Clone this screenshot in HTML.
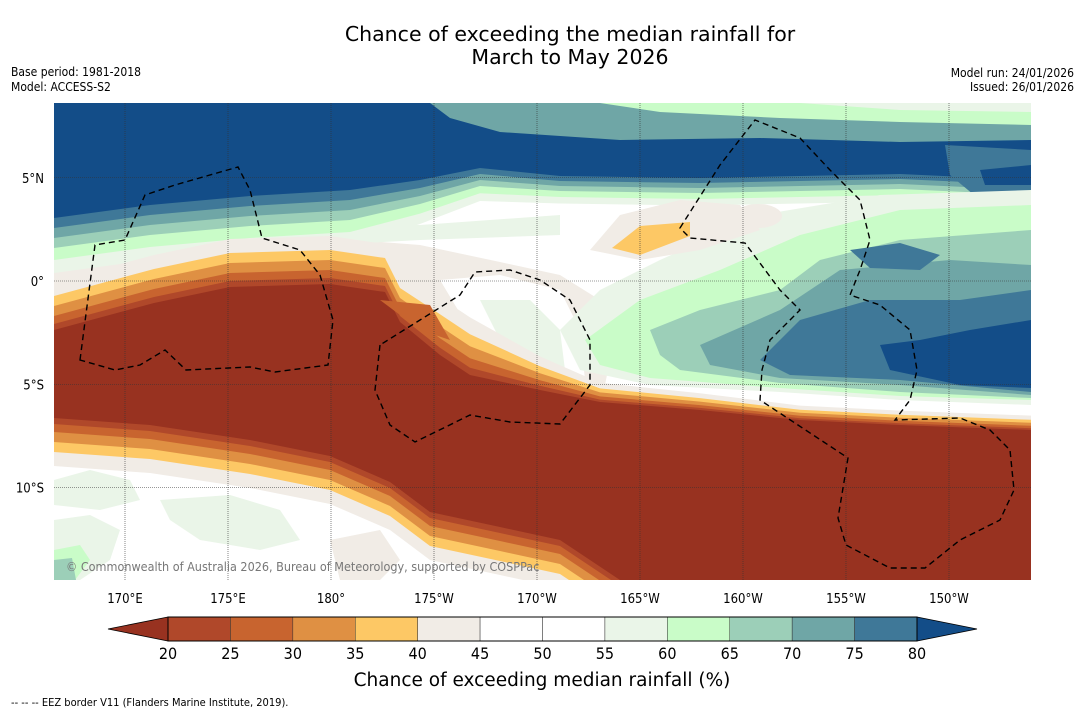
<!DOCTYPE html>
<html><head><meta charset="utf-8">
<style>
body{margin:0;background:#fff;width:1085px;height:713px;overflow:hidden;font-family:"DejaVu Sans Condensed","DejaVu Sans","Liberation Sans",sans-serif;}
svg{display:block}
</style></head>
<body>
<svg id="chart" width="1085" height="713" viewBox="0 0 1085 713">
<text x="570" y="41" text-anchor="middle" font-size="20.5" font-family="DejaVu Sans, sans-serif">Chance of exceeding the median rainfall for</text>
<text x="570" y="64" text-anchor="middle" font-size="20.5" font-family="DejaVu Sans, sans-serif">March to May 2026</text>
<text x="11" y="76" font-size="12">Base period: 1981-2018</text>
<text x="11" y="91" font-size="12">Model: ACCESS-S2</text>
<text x="1074" y="77" font-size="12" text-anchor="end">Model run: 24/01/2026</text>
<text x="1074" y="91" font-size="12" text-anchor="end">Issued: 26/01/2026</text>
<defs><clipPath id="mapclip"><rect x="54" y="103" width="977" height="477"/></clipPath></defs>
<g id="map" clip-path="url(#mapclip)"></g>
<g id="axes"></g>
<g id="cbar"></g>
<text x="542" y="686" text-anchor="middle" font-size="18.5" font-family="DejaVu Sans, sans-serif">Chance of exceeding median rainfall (%)</text>
<text x="11" y="706" font-size="11">--  --  -- EEZ border V11 (Flanders Marine Institute, 2019).</text>
</svg>
<script>
const binEdges=[20,25,30,35,40,45,50,55,60,65,70,75,80];
const binColors=["#b0482a","#c8642f","#df9043","#fdc865","#f1ece6","#ffffff","#ffffff","#eaf5e8","#c9fcc8","#9ccfb8","#6fa6a6","#3f7898"];
const lowColor="#983220", highColor="#134d88";
const lonTicks=["170°E","175°E","180°","175°W","170°W","165°W","160°W","155°W","150°W"];
const lonValues=[170,175,180,185,190,195,200,205,210];
const latTicks=["5°N","0°","5°S","10°S"];
const latValues=[5,0,-5,-10];
const NS="http://www.w3.org/2000/svg";
const xLon=l=>125+(l-170)*20.6;
const yLat=l=>281-l*20.65;
const xBin=v=>168+(v-20)*(749/60);
function mk(t,a,p){const e=document.createElementNS(NS,t);for(const k in a)e.setAttribute(k,a[k]);p.appendChild(e);return e;}
const map=document.getElementById('map');
mk('rect',{x:54,y:103,width:977,height:477,fill:'#fff'},map);
const wetTop=[[54,218,1],[150,205,1],[250,196,1],[350,190,1],[420,180,.8],[480,168,.6],[560,176,.5],[700,178,.5],[800,176,.5],[900,174,.5],[1031,180,.5]];
const dryTop=[[54,330,1],[154,303,1],[230,287,1],[330,284,1],[385,292,1],[400,322,1],[440,355,1.2],[470,375,1.2],[540,390,.7],[600,402,.4],[700,410,.35],[800,420,.3],[900,425,.3],[1031,430,.3]];
const dryBot=[[1031,580],[620,580],[560,540],[500,527],[430,512],[390,482],[330,456],[250,440],[150,425],[54,418]];
function path(pts){return 'M'+pts.map(p=>p[0]+','+p[1]).join('L')+'Z';}
mk('path',{d:'M54,250L200,240L330,238L420,245L500,262L560,275L600,300L610,360L600,410L540,395L470,375L430,340L380,300L54,300Z',fill:binColors[4]},map);
mk('path',{d:'M440,280L500,275L560,290L580,330L585,380L560,385L520,360L470,330Z',fill:'#ffffff'},map);
mk('path',{d:'M480,300L530,300L560,330L565,370L530,365L500,340Z',fill:binColors[7]},map);
mk('path',{d:'M54,235L200,225L330,220L420,225L560,215L560,235L420,240L330,245L200,250L54,262Z',fill:binColors[7]},map);
const wetOffsets=[55,42,30,20,10,0];
for(let i=0;i<6;i++){const pts=[[54,103],[1031,103]].concat(wetTop.slice().reverse().map(p=>[p[0],p[1]+wetOffsets[i]*p[2]]));
const el=mk('path',{d:path(pts),fill:i<5?binColors[7+i]:highColor},map);

}
mk('path',{d:'M430,103L1031,103L1031,140L900,142L760,138L620,140L500,132L450,118Z',fill:binColors[10]},map);
mk('path',{d:'M600,103L1031,103L1031,125L900,122L780,118L660,112Z',fill:binColors[8]},map);
mk('path',{d:'M800,103L1031,103L1031,112L900,110Z',fill:binColors[7]},map);
mk('path',{d:'M945,145L1031,150L1031,195L980,200L950,175Z',fill:binColors[11]},map);
mk('path',{d:'M980,170L1031,165L1031,185L985,185Z',fill:highColor},map);
const blobs=[
 [binColors[7],'M560,330L600,290L660,260L760,215L880,195L1031,190L1031,405L900,400L780,392L650,385L580,370Z'],
 [binColors[8],'M585,340L640,300L720,270L800,235L900,210L1031,205L1031,400L900,396L780,388L650,378L600,365Z'],
 [binColors[9],'M650,330L700,310L780,290L820,260L900,240L1031,230L1031,398L900,392L780,383L680,370L660,355Z'],
 [binColors[10],'M700,345L780,310L840,270L950,260L1031,265L1031,395L900,385L780,378L710,365Z'],
 [binColors[11],'M760,360L800,320L870,300L960,300L1031,290L1031,392L900,380L790,375Z'],
 [highColor,'M880,345L920,340L970,330L1031,320L1031,388L960,385L890,370Z'],
 [binColors[11],'M850,250L900,243L940,255L920,270L870,268Z']];
blobs.forEach(b=>{const el=mk('path',{d:b[1],fill:b[0]},map);

});
mk('path',{d:'M590,250L620,215L680,200L740,205L760,230L700,250L640,260Z',fill:binColors[4]},map);
mk('path',{d:'M612,248L640,226L690,222L690,236L640,255Z',fill:binColors[3]},map);
mk('ellipse',{cx:758,cy:216,rx:24,ry:12,fill:binColors[4]},map);
mk('path',{d:'M54,480L90,470L130,480L140,500L100,510L54,505Z',fill:binColors[7]},map);
mk('path',{d:'M160,500L230,495L280,510L300,540L260,550L200,540L170,520Z',fill:binColors[7]},map);
mk('path',{d:'M54,520L90,515L120,530L110,560L80,580L54,580Z',fill:binColors[7]},map);
mk('path',{d:'M54,550L80,545L90,560L75,580L54,580Z',fill:binColors[8]},map);
mk('path',{d:'M54,560L72,558L76,580L54,580Z',fill:binColors[9]},map);
mk('path',{d:'M330,540L380,530L400,560L380,580L340,580Z',fill:binColors[4]},map);
const dryOffsets=[48,34,24,14,6,0];
const dryCols=[binColors[4],binColors[3],binColors[2],binColors[1],binColors[0],lowColor];
for(let i=0;i<6;i++){const o=dryOffsets[i];
const pts=dryTop.map(p=>[p[0],p[1]-o*p[2]]).concat(dryBot.map(p=>[p[0],p[1]+o*(p[0]<700?1:0)]));
const el=mk('path',{d:path(pts),fill:dryCols[i]},map);

}
mk('path',{d:'M380,300L430,305L450,340L420,330Z',fill:binColors[1]},map);
const ax=document.getElementById('axes');
lonValues.forEach((l,i)=>{const x=xLon(l);
const g=mk('line',{x1:x,y1:103,x2:x,y2:580,stroke:'#333','stroke-width':0.6,'stroke-dasharray':'1,1'},map);


const t=mk('text',{x:x,y:603,'text-anchor':'middle','font-size':13},ax);t.textContent=lonTicks[i];

});
latValues.forEach((l,i)=>{const y=yLat(l);
const g=mk('line',{x1:54,y1:y,x2:1031,y2:y,stroke:'#333','stroke-width':0.6,'stroke-dasharray':'1,1'},map);


const t=mk('text',{x:44,y:y+5,'text-anchor':'end','font-size':13},ax);t.textContent=latTicks[i];

});
const eez=['M80,360L95,245L125,240L145,195L175,185L238,167L250,190L262,238L300,250L320,275L333,320L328,365L275,372L250,367L186,370L165,350L140,365L115,370Z',
'M380,345L375,390L390,425L415,442L470,415L510,422L560,424L590,385L590,340L570,300L540,280L510,270L475,272L460,295L420,320Z',
'M680,228L720,165L755,120L800,138L830,170L860,200L870,240L860,270L850,295L880,305L910,330L917,370L910,400L895,420L960,418L990,430L1010,450L1014,490L1000,520L960,540L925,568L890,568L846,545L838,518L848,458L760,400L762,370L770,340L800,310L780,290L745,243L690,238Z'];
eez.forEach(d=>{const e=mk('path',{d:d,fill:'none',stroke:'#000','stroke-width':1.4,'stroke-dasharray':'6,4'},map);

});
const cp=mk('text',{x:66,y:571,'font-size':12.5,fill:'#777'},map);cp.textContent='© Commonwealth of Australia 2026, Bureau of Meteorology, supported by COSPPac';


const cb=document.getElementById('cbar');
const y0=617,h=24;
mk('polygon',{points:`${xBin(20)},${y0} 108,${y0+h/2} ${xBin(20)},${y0+h}`,fill:lowColor,stroke:'#000','stroke-width':0.8},cb);
mk('polygon',{points:`${xBin(80)},${y0} 977,${y0+h/2} ${xBin(80)},${y0+h}`,fill:highColor,stroke:'#000','stroke-width':0.8},cb);
for(let i=0;i<binColors.length;i++){const x1=xBin(binEdges[i]),x2=xBin(binEdges[i+1]);
const r=mk('rect',{x:x1,y:y0,width:x2-x1,height:h,fill:binColors[i],stroke:'#333','stroke-width':0.5},cb);

}
mk('rect',{x:xBin(20),y:y0,width:xBin(80)-xBin(20),height:h,fill:'none',stroke:'#000','stroke-width':1},cb);
binEdges.forEach(v=>{const t=mk('text',{x:xBin(v),y:y0+h+18,'text-anchor':'middle','font-size':16},cb);t.textContent=v;

});
</script>
</body></html>
